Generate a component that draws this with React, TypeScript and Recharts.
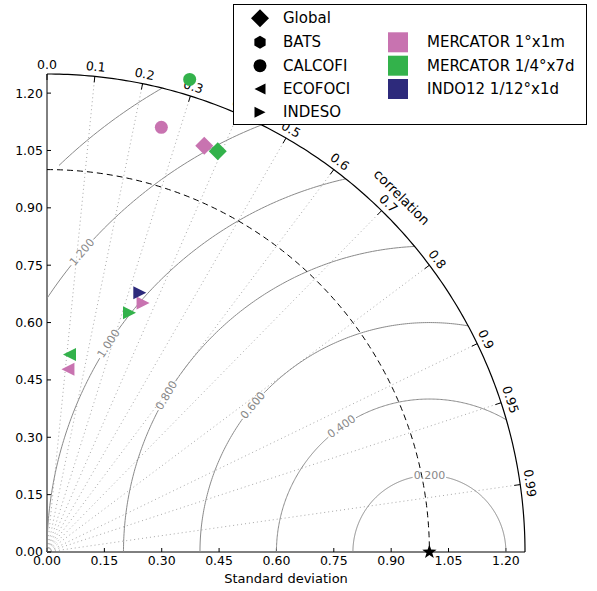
import React from 'react';
import { ScatterChart, Scatter, XAxis, YAxis, ReferenceLine, ReferenceDot } from 'recharts';

const FONT = '"DejaVu Sans", Verdana, sans-serif';

// ---------------- data ----------------
const MODEL_NAMES = ['MERCATOR 1°x1m', 'MERCATOR 1/4°x7d', 'INDO12 1/12°x1d'];
const MODEL_COLORS = ['#c873b0', '#33b24b', '#2d2a7b'];
const REGION_NAMES = ['Global', 'BATS', 'CALCOFI', 'ECOFOCI', 'INDESO'];

const mercator1Regions = ['Global', 'CALCOFI', 'ECOFOCI', 'INDESO'];
const mercator1Std = [1.139, 1.15, 0.481, 0.698];
const mercator1Corr = [0.361, 0.26, 0.114, 0.36];

const mercator4Regions = ['Global', 'CALCOFI', 'ECOFOCI', 'INDESO'];
const mercator4Std = [1.139, 1.291, 0.52, 0.662];
const mercator4Corr = [0.392, 0.289, 0.113, 0.326];

const indo12Regions = ['INDESO'];
const indo12Std = [0.72];
const indo12Corr = [0.337];

const REF_STD = 1.0;
const MAX_STD = 1.25;
const STD_TICKS = [0, 0.15, 0.3, 0.45, 0.6, 0.75, 0.9, 1.05, 1.2];
const CORR_TICKS = [0, 0.1, 0.2, 0.3, 0.4, 0.5, 0.6, 0.7, 0.8, 0.9, 0.95, 0.99];
const CORR_LABELS = ['0.0', '0.1', '0.2', '0.3', '0.4', '0.5', '0.6', '0.7', '0.8', '0.9', '0.95', '0.99'];
const RMS_LEVELS = [0.2, 0.4, 0.6, 0.8, 1.0, 1.2, 1.4];
const RMS_LABELS = ['0.200', '0.400', '0.600', '0.800', '1.000', '1.200', ''];
const RMS_LABEL_ANGLES = [90, 125, 140.3, 149.2, 147, 139.2, 135.6];

// ---------------- layout ----------------
const W = 597;
const H = 591;
const PLOT = 478;
const UNIT_PX = PLOT / MAX_STD;
const DEG = Math.PI / 180;

const toXY = (regions: string[], std: number[], corr: number[]) =>
  regions.map((region, i) => ({
    region,
    x: std[i] * corr[i],
    y: std[i] * Math.sqrt(1 - corr[i] * corr[i]),
  }));

const modelSeries = [
  toXY(mercator1Regions, mercator1Std, mercator1Corr),
  toXY(mercator4Regions, mercator4Std, mercator4Corr),
  toXY(indo12Regions, indo12Std, indo12Corr),
];

const refPoint = [{ x: REF_STD, y: 0 }];

// polar arc around origin (grid geometry)
const polarArc = (r: number, a0: number, a1: number) => {
  const n = Math.ceil(Math.abs(a1 - a0) / 0.5);
  const pts: { x: number; y: number }[] = [];
  for (let i = 0; i <= n; i++) {
    const a = (a0 + ((a1 - a0) * i) / n) * DEG;
    pts.push({ x: Math.max(0, r * Math.cos(a)), y: Math.max(0, r * Math.sin(a)) });
  }
  return pts;
};

// RMS contour segments around reference point
const rmsSegments = (r: number, labelAngle: number) => {
  let start = 0;
  if (REF_STD + r > MAX_STD) {
    const x = (MAX_STD * MAX_STD - r * r + REF_STD * REF_STD) / (2 * REF_STD);
    start = Math.acos((x - REF_STD) / r) / DEG;
  }
  const end = r < REF_STD ? 180 : Math.acos(-REF_STD / r) / DEG;
  const gap = 17 / UNIT_PX / r / DEG;
  const ranges = [
    [start, labelAngle - gap],
    [labelAngle + gap, end],
  ].filter(([a, b]) => b > a);
  return ranges.map(([a, b]) => {
    const n = Math.max(2, Math.ceil((b - a) / 0.5));
    const pts: { x: number; y: number }[] = [];
    for (let i = 0; i <= n; i++) {
      const p = (a + ((b - a) * i) / n) * DEG;
      pts.push({ x: Math.max(0, REF_STD + r * Math.cos(p)), y: Math.max(0, r * Math.sin(p)) });
    }
    return pts;
  });
};

const rmsArcs = RMS_LEVELS.flatMap((r, i) => rmsSegments(r, RMS_LABEL_ANGLES[i]));
const outerArc = polarArc(MAX_STD, 0, 90);
const refArc = polarArc(REF_STD, 90, 0);

const noShape = () => <g />;

const markerShape = (kind: string, cx: number, cy: number, s: number, color: string) => {
  switch (kind) {
    case 'Global':
      return <polygon points={`${cx},${cy - s} ${cx + s},${cy} ${cx},${cy + s} ${cx - s},${cy}`} fill={color} />;
    case 'BATS': {
      const pts = [0, 1, 2, 3, 4, 5]
        .map((k) => {
          const a = (90 + 60 * k) * DEG;
          return `${cx + s * Math.cos(a)},${cy - s * Math.sin(a)}`;
        })
        .join(' ');
      return <polygon points={pts} fill={color} />;
    }
    case 'CALCOFI':
      return <circle cx={cx} cy={cy} r={s} fill={color} />;
    case 'ECOFOCI':
      return <polygon points={`${cx - s},${cy} ${cx + s},${cy - s} ${cx + s},${cy + s}`} fill={color} />;
    case 'INDESO':
    default:
      return <polygon points={`${cx + s},${cy} ${cx - s},${cy - s} ${cx - s},${cy + s}`} fill={color} />;
  }
};

const markerSize = (kind: string) => (kind === 'Global' ? 9 : kind === 'CALCOFI' ? 6.5 : 6.5);

const starShape = (p: any) => {
  const { cx, cy } = p;
  const pts: string[] = [];
  for (let k = 0; k < 10; k++) {
    const rr = k % 2 === 0 ? 7.5 : 3;
    const a = (90 + 36 * k) * DEG;
    pts.push(`${cx + rr * Math.cos(a)},${cy - rr * Math.sin(a)}`);
  }
  return <polygon points={pts.join(' ')} fill="#000" />;
};

const LegendBox = () => {
  const rows = [13.3, 37.3, 60.7, 84, 107.3];
  const legendSizes = [9, 6.5, 6.5, 5.5, 5.5];
  return (
    <div
      style={{
        position: 'absolute',
        left: 233,
        top: 4,
        width: 354,
        height: 121,
        border: '1px solid #000',
        background: '#fff',
        boxSizing: 'border-box',
      }}
    >
      <svg width={352} height={119} style={{ position: 'absolute', left: 0, top: 0 }}>
        {REGION_NAMES.map((name, i) => (
          <g key={name}>
            {markerShape(name, 26, rows[i], legendSizes[i], '#000')}
            <text x={49} y={rows[i]} dominantBaseline="central" fontSize={15} fontFamily={FONT} fill="#000">
              {name}
            </text>
          </g>
        ))}
        {MODEL_NAMES.map((name, i) => (
          <g key={name}>
            <rect x={154} y={rows[i + 1] - 10} width={20} height={20} fill={MODEL_COLORS[i]} />
            <text x={193} y={rows[i + 1]} dominantBaseline="central" fontSize={15} fontFamily={FONT} fill="#000">
              {name}
            </text>
          </g>
        ))}
      </svg>
    </div>
  );
};

export default function App() {
  const tickStyle = { fill: '#000', fontSize: 12.5, fontFamily: FONT };
  return (
    <div style={{ position: 'absolute', left: 0, top: 0, width: W, height: H, background: '#fff' }}>
      <ScatterChart width={W} height={H} margin={{ top: 74, right: 72, left: 7, bottom: 4 }}>
        <XAxis
          type="number"
          dataKey="x"
          domain={[0, MAX_STD]}
          ticks={STD_TICKS}
          tickFormatter={(v: number) => v.toFixed(2)}
          height={35}
          tickSize={-4}
          tickMargin={8}
          axisLine={{ stroke: '#000' }}
          tickLine={{ stroke: '#000' }}
          tick={tickStyle}
          interval={0}
          label={{ value: 'Standard deviation', position: 'insideBottom', offset: 4, fill: '#000', fontSize: 13, fontFamily: FONT }}
        />
        <YAxis
          type="number"
          dataKey="y"
          domain={[0, MAX_STD]}
          ticks={STD_TICKS}
          tickFormatter={(v: number) => v.toFixed(2)}
          width={40}
          tickSize={-4}
          tickMargin={8}
          axisLine={{ stroke: '#000' }}
          tickLine={{ stroke: '#000' }}
          tick={tickStyle}
          interval={0}
        />

        {CORR_TICKS.filter((c) => c > 0).map((c) => (
          <ReferenceLine
            key={'cl' + c}
            segment={[
              { x: 0, y: 0 },
              { x: MAX_STD * c, y: MAX_STD * Math.sqrt(1 - c * c) },
            ]}
            stroke="#a8a8a8"
            strokeWidth={1}
            strokeDasharray="1 3"
            ifOverflow="visible"
          />
        ))}

        {rmsArcs.map((pts, i) => (
          <Scatter
            key={'rms' + i}
            data={pts}
            line={{ stroke: '#8a8a8a', strokeWidth: 1 }}
            shape={noShape}
            isAnimationActive={false}
          />
        ))}

        <Scatter
          data={refArc}
          line={{ stroke: '#000', strokeWidth: 1, strokeDasharray: '6 4' }}
          shape={noShape}
          isAnimationActive={false}
        />
        <Scatter data={outerArc} line={{ stroke: '#000', strokeWidth: 1.2 }} shape={noShape} isAnimationActive={false} />

        {CORR_TICKS.map((c) => {
          const s = Math.sqrt(1 - c * c);
          const inner = MAX_STD - 6 / UNIT_PX;
          return (
            <ReferenceLine
              key={'tk' + c}
              segment={[
                { x: MAX_STD * c, y: MAX_STD * s },
                { x: inner * c, y: inner * s },
              ]}
              stroke="#000"
              strokeWidth={1}
              ifOverflow="visible"
            />
          );
        })}

        {CORR_TICKS.map((c, i) => {
          const s = Math.sqrt(1 - c * c);
          const th = Math.acos(c) / DEG;
          return (
            <ReferenceDot
              key={'lb' + c}
              x={MAX_STD * c}
              y={MAX_STD * s}
              ifOverflow="visible"
              shape={(p: any) => {
                const tx = p.cx + 10 * c;
                const ty = p.cy - 10 * s;
                return (
                  <text
                    x={tx}
                    y={ty}
                    textAnchor="middle"
                    dominantBaseline="central"
                    fontSize={12.5}
                    fontFamily={FONT}
                    fill="#000"
                    transform={`rotate(${90 - th}, ${tx}, ${ty})`}
                  >
                    {CORR_LABELS[i]}
                  </text>
                );
              }}
            />
          );
        })}

        <ReferenceDot
          x={MAX_STD * Math.cos(45 * DEG)}
          y={MAX_STD * Math.sin(45 * DEG)}
          ifOverflow="visible"
          shape={(p: any) => {
            const tx = p.cx + 24 * Math.cos(45 * DEG);
            const ty = p.cy - 24 * Math.sin(45 * DEG);
            return (
              <text
                x={tx}
                y={ty}
                textAnchor="middle"
                dominantBaseline="central"
                fontSize={13.5}
                fontFamily={FONT}
                fill="#000"
                transform={`rotate(45, ${tx}, ${ty})`}
              >
                correlation
              </text>
            );
          }}
        />

        {RMS_LEVELS.map((r, i) =>
          RMS_LABELS[i] ? (
            <ReferenceDot
              key={'rl' + r}
              x={REF_STD + r * Math.cos(RMS_LABEL_ANGLES[i] * DEG)}
              y={r * Math.sin(RMS_LABEL_ANGLES[i] * DEG)}
              ifOverflow="visible"
              shape={(p: any) => (
                <text
                  x={p.cx}
                  y={p.cy}
                  textAnchor="middle"
                  dominantBaseline="central"
                  fontSize={11}
                  fontFamily={FONT}
                  fill="#888"
                  transform={`rotate(${90 - RMS_LABEL_ANGLES[i]}, ${p.cx}, ${p.cy})`}
                >
                  {RMS_LABELS[i]}
                </text>
              )}
            />
          ) : null
        )}

        {modelSeries.map((pts, m) => (
          <Scatter
            key={MODEL_NAMES[m]}
            name={MODEL_NAMES[m]}
            data={pts}
            isAnimationActive={false}
            shape={(p: any) => {
              const kind = (p.payload && p.payload.region) || p.region;
              return markerShape(kind, p.cx, p.cy, markerSize(kind), MODEL_COLORS[m]);
            }}
          />
        ))}

        <Scatter data={refPoint} shape={starShape} isAnimationActive={false} />
      </ScatterChart>
      <LegendBox />
    </div>
  );
}
